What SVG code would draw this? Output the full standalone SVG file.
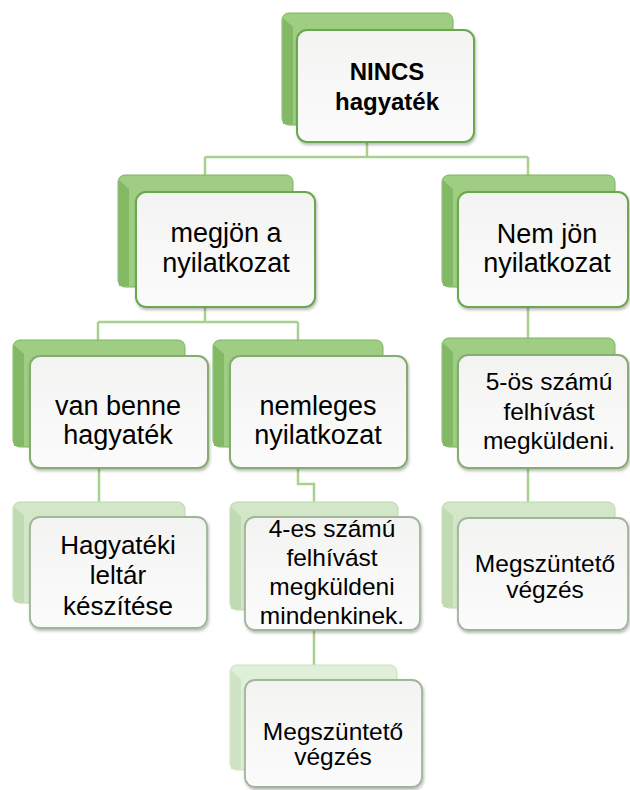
<svg xmlns="http://www.w3.org/2000/svg" width="630" height="790" viewBox="0 0 630 790">
<defs>
<linearGradient id="gf" x1="0" y1="0" x2="0" y2="1">
<stop offset="0" stop-color="#f3f4f2"/>
<stop offset="1" stop-color="#fbfbfb"/>
</linearGradient>
<filter id="sh" x="-10%" y="-10%" width="130%" height="130%">
<feDropShadow dx="1" dy="2" stdDeviation="1.5" flood-color="#000" flood-opacity="0.28"/>
</filter>
</defs>
<style>
.bkA{fill:#9ecd83;stroke:#7db45e;stroke-width:1}
.lfA{fill:#83b965}
.bkB{fill:#d3e7c8;stroke:#bcd6ad;stroke-width:1}
.lfB{fill:#c0dbb1}
.bkC{fill:#e0efd8;stroke:#cbe0bf;stroke-width:1}
.lfC{fill:#cfe4c4}
.fr{fill:url(#gf);filter:url(#sh)}
.frA{stroke:#6aa84f;stroke-width:2}
.frA2{stroke:#84ad70;stroke-width:2}
.frB{stroke:#9fb69a;stroke-width:1.8}
.tx{font-family:"Liberation Sans",Arial,sans-serif;fill:#000;text-anchor:middle}
.t0{font-size:24px;font-weight:bold}
.t1{font-size:27px}
.t2{font-size:26px}
.t3{font-size:24.5px}
.cn{fill:none;stroke:#a9d18e;stroke-width:2.5}
</style>
<g id="connectors">
<path class="cn" d="M367,125 V157 M205,157 H528 M205,157 V175 M528,157 V175"/>
<path class="cn" d="M205,287 V322 M98,322 H298 M98,322 V340 M298,322 V340"/>
<path class="cn" d="M528,287 V338"/>
<path class="cn" d="M99,447 V502"/>
<path class="cn" d="M298,447 V484 H314 V502"/>
<path class="cn" d="M528,447 V502"/>
<path class="cn" d="M314,610 V665"/>
</g>
<g id="n-root">
<rect class="bkA" x="282" y="13" width="171" height="112" rx="7"/>
<path class="lfA" d="M283,18 L293,27 V124 H283 Z"/>
<rect class="fr frA" x="297" y="30" width="177" height="112" rx="10"/>
<text class="tx t0" x="387" y="80">NINCS</text>
<text class="tx t0" x="387" y="110">hagyaték</text>
</g>
<g id="n-megjon">
<rect class="bkA" x="118" y="175" width="175" height="112" rx="7"/>
<path class="lfA" d="M119,180 L129,189 V286 H119 Z"/>
<rect class="fr frA" x="136" y="192" width="179" height="115" rx="10"/>
<text class="tx t1" x="226" y="242">megjön a</text>
<text class="tx t1" x="226" y="272">nyilatkozat</text>
</g>
<g id="n-nemjon">
<rect class="bkA" x="442" y="175" width="173" height="112" rx="7"/>
<path class="lfA" d="M443,180 L453,189 V286 H443 Z"/>
<rect class="fr frA" x="458" y="192" width="170" height="115" rx="10"/>
<text class="tx t1" x="547" y="243">Nem jön</text>
<text class="tx t1" x="547" y="272">nyilatkozat</text>
</g>
<g id="n-vanbenne">
<rect class="bkA" x="13" y="340" width="172" height="107" rx="7"/>
<path class="lfA" d="M14,345 L24,354 V446 H14 Z"/>
<rect class="fr frA2" x="30" y="356" width="178" height="112" rx="10"/>
<text class="tx t1" x="118" y="415">van benne</text>
<text class="tx t1" x="118" y="444">hagyaték</text>
</g>
<g id="n-nemleges">
<rect class="bkA" x="213" y="340" width="170" height="107" rx="7"/>
<path class="lfA" d="M214,345 L224,354 V446 H214 Z"/>
<rect class="fr frA2" x="230" y="356" width="177" height="112" rx="10"/>
<text class="tx t1" x="318" y="415">nemleges</text>
<text class="tx t1" x="318" y="444">nyilatkozat</text>
</g>
<g id="n-5os">
<rect class="bkA" x="442" y="338" width="173" height="109" rx="7"/>
<path class="lfA" d="M443,343 L453,352 V446 H443 Z"/>
<rect class="fr frA2" x="458" y="355" width="170" height="113" rx="10"/>
<text class="tx t3" x="549" y="390">5-ös számú</text>
<text class="tx t3" x="549" y="420">felhívást</text>
<text class="tx t3" x="549" y="449">megküldeni.</text>
</g>
<g id="n-hagyateki">
<rect class="bkB" x="13" y="502" width="172" height="101" rx="7"/>
<path class="lfB" d="M14,507 L24,516 V602 H14 Z"/>
<rect class="fr frB" x="30" y="517" width="177" height="111" rx="10"/>
<text class="tx t2" x="118" y="554">Hagyatéki</text>
<text class="tx t2" x="118" y="584">leltár</text>
<text class="tx t2" x="118" y="615">készítése</text>
</g>
<g id="n-4es">
<rect class="bkB" x="230" y="502" width="168" height="108" rx="7"/>
<path class="lfB" d="M231,507 L241,516 V609 H231 Z"/>
<rect class="fr frB" x="245" y="517" width="175" height="113" rx="10"/>
<text class="tx t3" x="332" y="537">4-es számú</text>
<text class="tx t3" x="332" y="566">felhívást</text>
<text class="tx t3" x="332" y="595">megküldeni</text>
<text class="tx t3" x="332" y="624">mindenkinek.</text>
</g>
<g id="n-megszunteto1">
<rect class="bkB" x="442" y="502" width="173" height="106" rx="7"/>
<path class="lfB" d="M443,507 L453,516 V607 H443 Z"/>
<rect class="fr frB" x="458" y="518" width="170" height="112" rx="10"/>
<text class="tx t3" x="545" y="572">Megszüntető</text>
<text class="tx t3" x="545" y="598">végzés</text>
</g>
<g id="n-megszunteto2">
<rect class="bkC" x="230" y="665" width="167" height="105" rx="7"/>
<path class="lfC" d="M231,670 L241,679 V769 H231 Z"/>
<rect class="fr frB" x="245" y="680" width="177" height="107" rx="10"/>
<text class="tx t3" x="333" y="740">Megszüntető</text>
<text class="tx t3" x="333" y="765">végzés</text>
</g>
</svg>
